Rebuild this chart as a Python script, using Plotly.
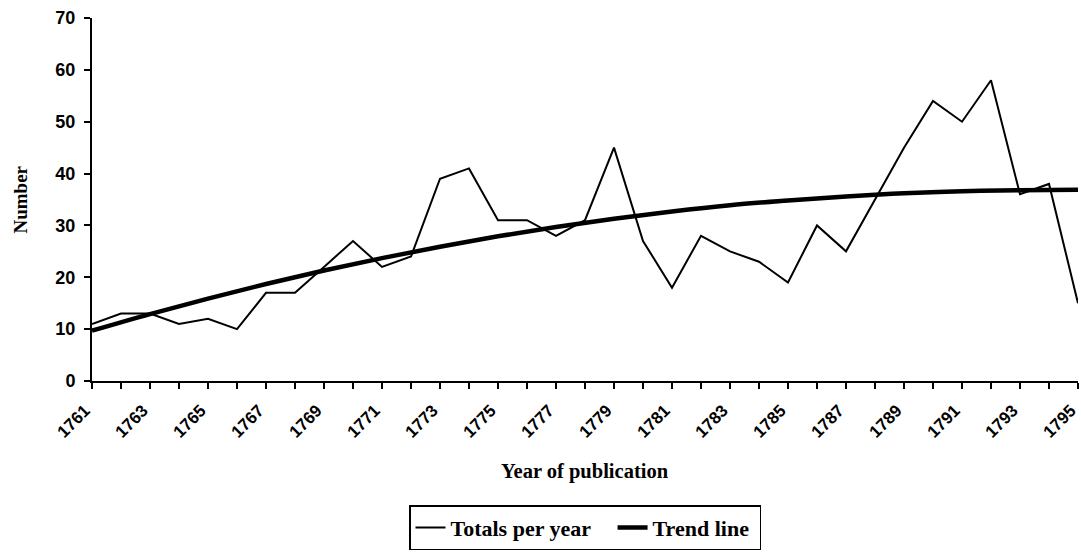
import plotly.graph_objects as go

years = list(range(1761, 1796))
totals = [11, 13, 13, 11, 12, 10, 17, 17, 22, 27, 22, 24, 39, 41, 31, 31, 28, 31, 45, 27,
          18, 28, 25, 23, 19, 30, 25, 35, 45, 54, 50, 58, 36, 38, 15]
trend_years = list(range(1761, 1796, 2))
trend_vals = [9.7, 12.9, 15.9, 18.7, 21.3, 23.7, 25.9, 27.9, 29.7, 31.3, 32.7, 33.9,
              34.8, 35.6, 36.2, 36.6, 36.8, 36.9]
tick_text = [str(y) if (y - 1761) % 2 == 0 else "" for y in years]

serif = "Liberation Serif, Times New Roman, serif"
sans = "Liberation Sans, Arial, sans-serif"
nb = "\u00a0"

fig = go.Figure()
fig.add_trace(go.Scatter(x=years, y=totals, mode="lines", name="<b>Totals per year</b>" + nb * 3,
                         line=dict(color="black", width=2)))
fig.add_trace(go.Scatter(x=trend_years, y=trend_vals, mode="lines", name="<b>Trend line</b>" + nb,
                         line=dict(color="black", width=4.5, shape="spline")))

fig.update_layout(
    width=1081, height=553,
    margin=dict(l=92, r=3, t=18, b=172, autoexpand=False),
    paper_bgcolor="white", plot_bgcolor="white",
    showlegend=True,
    legend=dict(orientation="h", x=0.5, xanchor="center", y=-0.466, yanchor="bottom",
                bordercolor="black", borderwidth=1.5, tracegroupgap=0,
                font=dict(family=serif, size=22, color="black")),
    xaxis=dict(range=[1761, 1795], tickvals=years, ticktext=tick_text, tickangle=-45,
               ticklabeloverflow="allow", ticklabelshift=-7, ticklabelstandoff=5,
               showgrid=False, zeroline=False, showline=True, linecolor="black", linewidth=2,
               ticks="outside", ticklen=6, tickwidth=2, tickcolor="black",
               tickfont=dict(family=sans, size=17, color="black", weight="bold")),
    yaxis=dict(range=[0, 70], tickvals=list(range(0, 71, 10)), ticklabelstandoff=5,
               showgrid=False, zeroline=False, showline=True, linecolor="black", linewidth=2,
               ticks="outside", ticklen=6, tickwidth=2, tickcolor="black",
               tickfont=dict(family=sans, size=18, color="black", weight="bold")),
    annotations=[
        dict(text="<b>Year of publication</b>", xref="paper", yref="paper", x=0.5, y=-0.248,
             showarrow=False, xanchor="center", yanchor="middle",
             font=dict(family=serif, size=20.5, color="black")),
        dict(text="<b>Number</b>", xref="paper", yref="paper", x=-0.073, y=0.5,
             showarrow=False, xanchor="center", yanchor="middle", textangle=-90,
             font=dict(family=serif, size=19, color="black")),
    ],
)

fig.write_html("out.html", config={"displayModeBar": False},
               post_script="document.body.style.margin='0';")
